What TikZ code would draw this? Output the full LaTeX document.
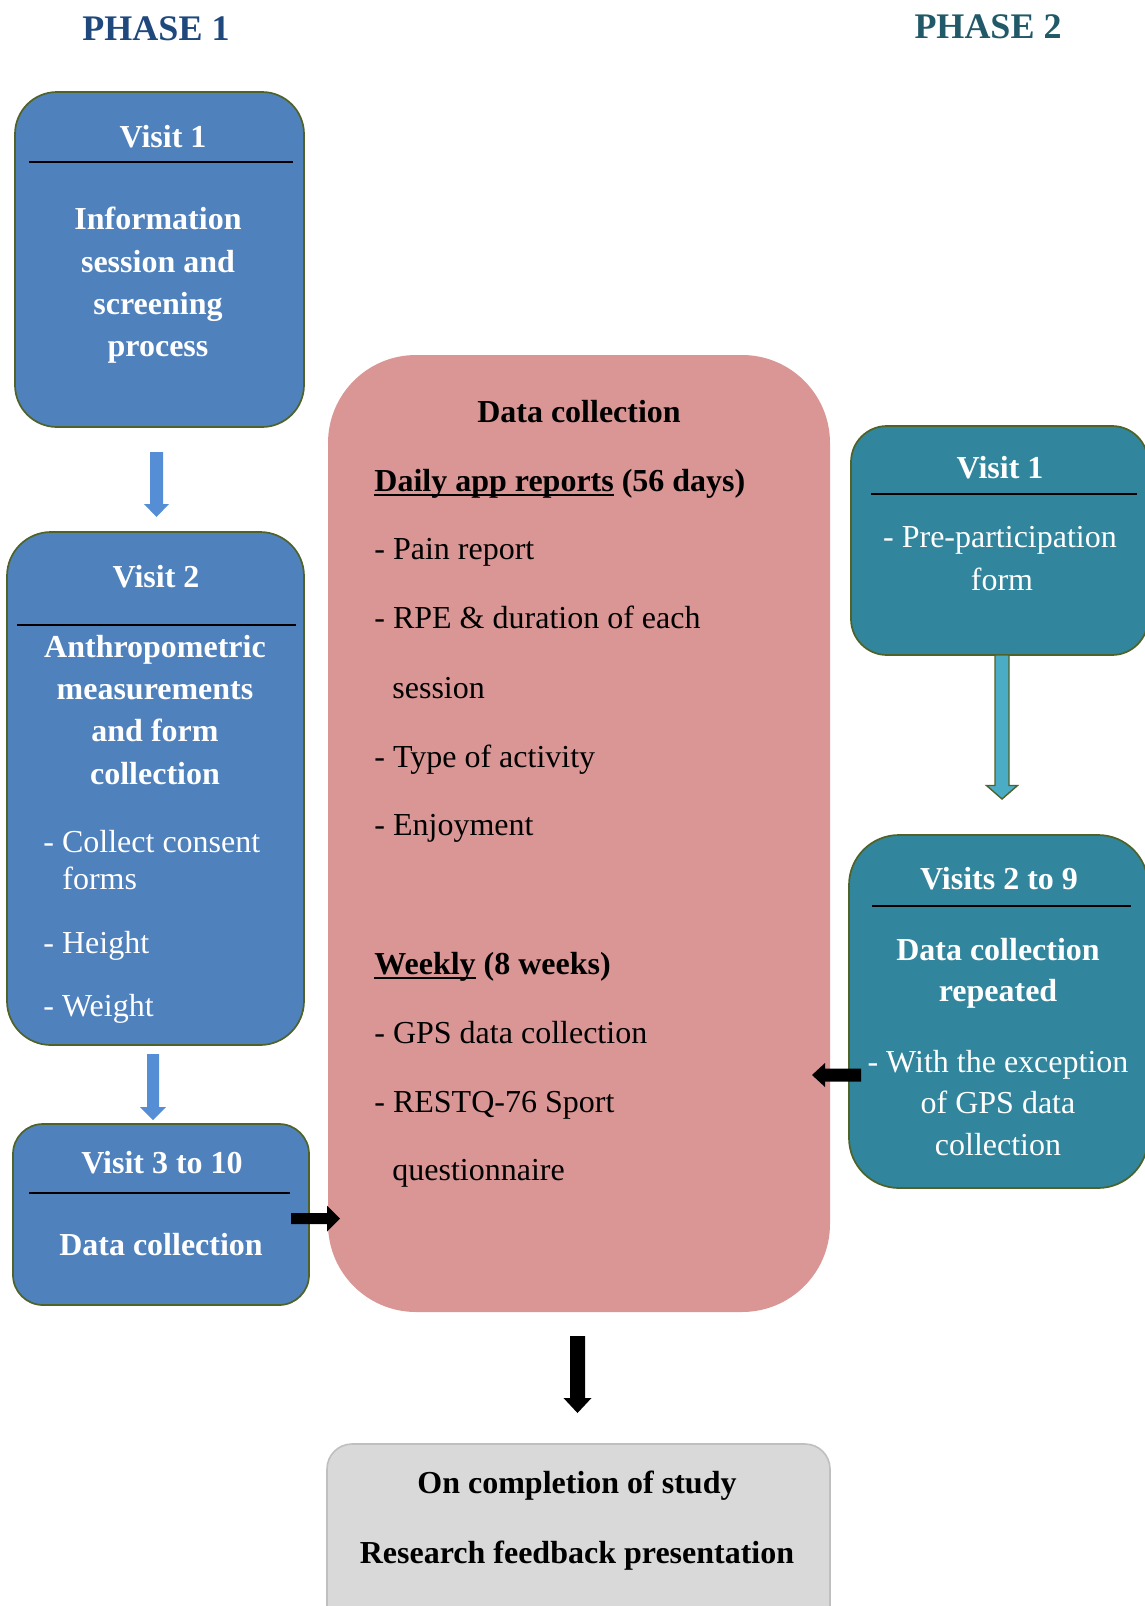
\documentclass[tikz,border=0pt]{standalone}
\usepackage{fontspec}
\setmainfont{Liberation Serif}
\usetikzlibrary{calc,fit}

\definecolor{boxblue}{HTML}{4F81BD}
\definecolor{boxedge}{HTML}{4F6228}
\definecolor{boxteal}{HTML}{31859C}
\definecolor{arrowblue}{HTML}{558ED5}
\definecolor{arrowteal}{HTML}{4BACC6}
\definecolor{boxpink}{HTML}{D99694}
\definecolor{boxgrey}{HTML}{D9D9D9}
\definecolor{greyedge}{HTML}{BFBFBF}
\definecolor{phaseone}{HTML}{1F497D}
\definecolor{phasetwo}{HTML}{215968}

% underline that crosses the descenders, as a word processor draws it
\newcommand\wordul[1]{\setbox0\hbox{#1}\rlap{\rule[-2.6pt]{\wd0}{1.1pt}}\box0{}}

% block arrows: #1 style, #2 tail, #3 tip, #4 half shaft, #5 half head, #6 head length
\newcommand\blockdown[6]{%
  \path[#1] ($(#2)+(-#4,0)$) -- ($(#2)+(#4,0)$) -- ($(#2|-#3)+(#4,-#6)$)
    -- ($(#2|-#3)+(#5,-#6)$) -- (#2|-#3) -- ($(#2|-#3)+(-#5,-#6)$)
    -- ($(#2|-#3)+(-#4,-#6)$) -- cycle;}
\newcommand\blockright[6]{%
  \path[#1] ($(#2)+(0,-#4)$) -- ($(#2)+(0,#4)$) -- ($(#2-|#3)+(-#6,#4)$)
    -- ($(#2-|#3)+(-#6,#5)$) -- (#2-|#3) -- ($(#2-|#3)+(-#6,-#5)$)
    -- ($(#2-|#3)+(-#6,-#4)$) -- cycle;}
\newcommand\blockleft[6]{%
  \path[#1] ($(#2)+(0,-#4)$) -- ($(#2)+(0,#4)$) -- ($(#2-|#3)+(#6,#4)$)
    -- ($(#2-|#3)+(#6,#5)$) -- (#2-|#3) -- ($(#2-|#3)+(#6,-#5)$)
    -- ($(#2-|#3)+(#6,-#4)$) -- cycle;}

\tikzset{
  frame/.style={draw=boxedge, line width=0.85pt, inner sep=0pt},
  bluebox/.style={frame, fill=boxblue},
  tealbox/.style={frame, fill=boxteal},
  pinkbox/.style={fill=boxpink, inner sep=0pt},
  greybox/.style={draw=greyedge, line width=0.8pt, fill=boxgrey, inner sep=0pt},
  divider/.style={line width=1pt, black},
  plain/.style={inner sep=0pt, anchor=base, font=\fontsize{16}{19}\selectfont},
  strong/.style={inner sep=0pt, anchor=base, font=\fontsize{16}{19}\selectfont\bfseries},
  ontone/.style={text=white},
  flush/.style={anchor=base west},
  phase/.style={inner sep=0pt, anchor=base, font=\fontsize{18}{21}\selectfont\bfseries},
  bluearrow/.style={fill=arrowblue},
  tealarrow/.style={fill=arrowteal, draw=boxedge, line width=0.7pt},
  blackarrow/.style={fill=black},
}

\begin{document}
\begin{tikzpicture}[x=0.5pt, y=-0.5pt]
\useasboundingbox (0,0) rectangle (1145,1606);

% phase headings
\node[phase, text=phaseone] (p1) at (156,40) {PHASE 1};
\node[phase, text=phasetwo] (p2) at (988,39) {PHASE 2};

% ---------- phase 1 column ----------
\node[bluebox, rounded corners=21pt, fit={(15,92) (304,427)}] (v1) {};
\draw[divider] (29,162) -- (293,162);
\node[strong, ontone] (v1a) at (163,147) {Visit 1};
\node[strong, ontone] (v1b) at (158,229) {Information};
\node[strong, ontone] (v1c) at (158,272) {session and};
\node[strong, ontone] (v1d) at (158,314) {screening};
\node[strong, ontone] (v1e) at (158,356) {process};

\node[bluebox, rounded corners=22pt, fit={(7,532) (304,1045)}] (v2) {};
\draw[divider] (17,625) -- (296,625);
\node[strong, ontone] (v2a) at (156,587) {Visit 2};
\node[strong, ontone] (v2b) at (155,657) {Anthropometric};
\node[strong, ontone] (v2c) at (155,699) {measurements};
\node[strong, ontone] (v2d) at (155,741) {and form};
\node[strong, ontone] (v2e) at (155,784) {collection};
\node[plain, flush, ontone] (v2f) at (43,852) {- Collect consent};
\node[plain, flush, ontone] (v2g) at (62,889) {forms};
\node[plain, flush, ontone] (v2h) at (43,953) {- Height};
\node[plain, flush, ontone] (v2i) at (43,1016) {- Weight};

\node[bluebox, rounded corners=15pt, fit={(13,1124) (309,1305)}] (v3) {};
\draw[divider] (29,1193) -- (290,1193);
\node[strong, ontone] (v3a) at (162,1173) {Visit 3 to 10};
\node[strong, ontone] (v3b) at (161,1255) {Data collection};

% ---------- central data collection ----------
\node[pinkbox, rounded corners=44pt, fit={(328,355) (830,1312)}] (dc) {};
\node[strong] (dca) at (579,422) {Data collection};
\node[strong, flush] (dcb) at (374,491) {\wordul{Daily app reports} (56 days)};
\node[plain, flush] (dcc) at (374,559) {- Pain report};
\node[plain, flush] (dcd) at (374,628) {- RPE \& duration of each};
\node[plain, flush] (dce) at (392,698) {session};
\node[plain, flush] (dcf) at (374,767) {- Type of activity};
\node[plain, flush] (dcg) at (374,835) {- Enjoyment};
\node[strong, flush] (dch) at (374,974) {\wordul{Weekly} (8 weeks)};
\node[plain, flush] (dci) at (374,1043) {- GPS data collection};
\node[plain, flush] (dcj) at (374,1112) {- RESTQ-76 Sport};
\node[plain, flush] (dck) at (392,1180) {questionnaire};

% ---------- phase 2 column ----------
\node[tealbox, rounded corners=18pt, fit={(851,426) (1148,655)}] (t1) {};
\draw[divider] (871,494) -- (1137,494);
\node[strong, ontone] (t1a) at (1000,478) {Visit 1};
\node[plain, ontone] (t1b) at (1000,547) {- Pre-participation};
\node[plain, ontone] (t1c) at (1002,590) {form};

\node[tealbox, rounded corners=25pt, fit={(849,835) (1148,1188)}] (t2) {};
\draw[divider] (872,906) -- (1131,906);
\node[strong, ontone] (t2a) at (999,889) {Visits 2 to 9};
\node[strong, ontone] (t2b) at (998,960) {Data collection};
\node[strong, ontone] (t2c) at (998,1001) {repeated};
\node[plain, ontone] (t2d) at (998,1072) {- With the exception};
\node[plain, ontone] (t2e) at (998,1113) {of GPS data};
\node[plain, ontone] (t2f) at (998,1155) {collection};

% ---------- final box ----------
\node[greybox, rounded corners=12.5pt, fit={(327,1444) (830,1640)}] (fin) {};
\node[strong] (fina) at (577,1493) {On completion of study};
\node[strong] (finb) at (577,1563) {Research feedback presentation};

% ---------- block arrows ----------
\coordinate (a1t) at (156.5,452);  \coordinate (a1h) at (156.5,517);
\coordinate (a2t) at (153,1054);   \coordinate (a2h) at (153,1120);
\coordinate (a3t) at (1002,655);   \coordinate (a3h) at (1002,799);
\coordinate (a4t) at (291,1218.5); \coordinate (a4h) at (340,1218.5);
\coordinate (a5t) at (861,1075);   \coordinate (a5h) at (812,1075);
\coordinate (a6t) at (577.5,1336); \coordinate (a6h) at (577.5,1413);

\blockdown{bluearrow}{a1t}{a1h}{6.5}{12.5}{13}
\blockdown{bluearrow}{a2t}{a2h}{6}{13}{13}
\blockdown{tealarrow}{a3t}{a3h}{7}{15.5}{13.5}
\blockright{blackarrow}{a4t}{a4h}{5.5}{13}{13}
\blockleft{blackarrow}{a5t}{a5h}{6.5}{12}{13}
\blockdown{blackarrow}{a6t}{a6h}{7.5}{14}{15}
\end{tikzpicture}
\end{document}
